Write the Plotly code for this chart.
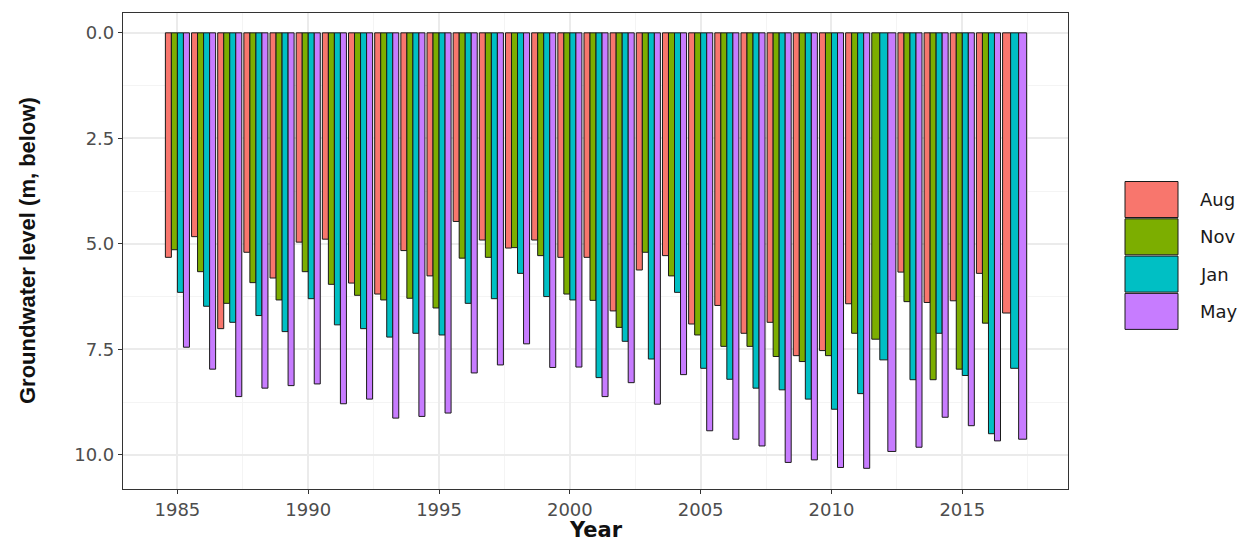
import plotly.graph_objects as go

years = list(range(1985, 2018))
months = ["Aug", "Nov", "Jan", "May"]

aug = [5.32, 4.83, 7.01, 5.20, 5.81, 4.96, 4.89, 5.93, 6.19, 5.16, 5.76, 4.47, 4.91,
       5.10, 4.91, 5.32, 5.32, 6.59, 5.62, 5.28, 6.90, 6.46, 7.12, 6.86, 7.65, 7.53,
       6.42, None, 5.67, 6.39, 6.35, 5.70, 6.64]
nov = [5.14, 5.66, 6.41, 5.92, 6.33, 5.66, 5.96, 6.22, 6.33, 6.29, 6.52, 5.34, 5.32,
       5.09, 5.28, 6.19, 6.34, 6.98, 5.20, 5.76, 7.16, 7.43, 7.43, 7.67, 7.79, 7.65,
       7.12, 7.26, 6.37, 8.22, 7.97, 6.88, None]
jan = [6.15, 6.48, 6.86, 6.70, 7.08, 6.30, 6.92, 7.01, 7.21, 7.12, 7.16, 6.41, 6.30,
       5.70, 6.25, 6.33, 8.17, 7.31, 7.73, 6.15, 7.95, 8.21, 8.42, 8.46, 8.68, 8.92,
       8.55, 7.75, 8.22, 7.12, 8.12, 9.50, 7.95]
may = [7.45, 7.97, 8.62, 8.42, 8.36, 8.32, 8.79, 8.68, 9.13, 9.09, 9.01, 8.06, 7.87,
       7.37, 7.93, 7.92, 8.62, 8.29, 8.80, 8.10, 9.43, 9.63, 9.79, 10.18, 10.12, 10.30,
       10.32, 9.92, 9.82, 9.11, 9.31, 9.67, 9.63]

y_tickvals = [0, 2.5, 5, 7.5, 10]
y_ticktext = ["0.0", "2.5", "5.0", "7.5", "10.0"]
x_tickvals = [1985, 1990, 1995, 2000, 2005, 2010, 2015]

colors = ["#F8766D", "#7CAE00", "#00BFC4", "#C77CFF"]
series = [aug, nov, jan, may]
W = 0.92  # dodge width (like ggplot position_dodge)

fig = go.Figure()
for mi, (name, vals, col) in enumerate(zip(months, series, colors)):
    xs, ys, ws, offs = [], [], [], []
    for yi, yr in enumerate(years):
        v = vals[yi]
        if v is None:
            continue
        present = [k for k in range(4) if series[k][yi] is not None]
        n = len(present)
        idx = present.index(mi)
        xs.append(yr)
        ys.append(v)
        ws.append(W / n)
        offs.append(-W / 2 + idx * W / n)
    fig.add_trace(go.Bar(
        x=xs, y=ys, width=ws, offset=offs, name=name, showlegend=False,
        marker=dict(color=col, line=dict(color="#1a1a1a", width=1)),
    ))

# page body has an 8px margin; work in page pixels and convert
OFF = 8
FW, FH = 1259 - OFF, 542 - OFF
PLOT_L, PLOT_R, PLOT_T, PLOT_B = 123, 1068, 13, 489  # page pixels
L = PLOT_L - OFF
T = PLOT_T - OFF
R = FW - (PLOT_R - OFF)
B = FH - (PLOT_B - OFF)
PW, PH = PLOT_R - PLOT_L, PLOT_B - PLOT_T


def px_x(p):
    return (p - PLOT_L) / PW


def px_y(p):
    return (PLOT_B - p) / PH


shapes = []
annotations = []
for i, (name, col) in enumerate(zip(months, colors)):
    top = 181.5 + i * 37.3
    shapes.append(dict(type="rect", xref="paper", yref="paper",
                       x0=px_x(1125), x1=px_x(1178), y0=px_y(top + 36), y1=px_y(top),
                       fillcolor=col, line=dict(color="#1a1a1a", width=1)))
    annotations.append(dict(xref="paper", yref="paper", x=px_x(1198), y=px_y(top + 18),
                            text=name, showarrow=False, xanchor="left", yanchor="middle",
                            font=dict(family="DejaVu Sans", size=18, color="#1a1a1a")))

annotations.append(dict(xref="paper", yref="paper", x=px_x(596), y=px_y(530),
                        text="<b>Year</b>", showarrow=False, xanchor="center", yanchor="middle",
                        font=dict(family="DejaVu Sans", size=21, color="#111111")))
annotations.append(dict(xref="paper", yref="paper", x=px_x(27), y=px_y(251),
                        text="<b>Groundwater level (m, below)</b>", showarrow=False, textangle=-90,
                        xanchor="center", yanchor="middle",
                        font=dict(family="Liberation Sans", size=22, color="#111111")))

fig.update_layout(
    width=FW, height=FH,
    margin=dict(l=L, r=R, t=T, b=B),
    barmode="overlay",
    plot_bgcolor="white", paper_bgcolor="white",
    shapes=shapes, annotations=annotations,
    showlegend=False,
    xaxis=dict(
        range=[1982.92, 2019.04], tickvals=x_tickvals,
        ticks="outside", ticklen=4, tickwidth=1.2, tickcolor="#333333",
        tickfont=dict(family="DejaVu Sans", size=18, color="#4D4D4D"),
        showline=True, mirror=True, linecolor="#333333", linewidth=1.2,
        showgrid=True, gridcolor="#EBEBEB", gridwidth=1.5, zeroline=False,
        minor=dict(dtick=2.5, tick0=1982.5, showgrid=True, gridcolor="#F4F4F4", gridwidth=0.8),
    ),
    yaxis=dict(
        range=[10.81, -0.47], tickvals=y_tickvals, ticktext=y_ticktext,
        ticks="outside", ticklen=4, tickwidth=1.2, tickcolor="#333333",
        tickfont=dict(family="DejaVu Sans", size=18, color="#4D4D4D"),
        showline=True, mirror=True, linecolor="#333333", linewidth=1.2,
        showgrid=True, gridcolor="#EBEBEB", gridwidth=1.5, zeroline=False,
        minor=dict(dtick=1.25, tick0=0, showgrid=True, gridcolor="#F4F4F4", gridwidth=0.8),
    ),
)

fig.write_html("out.html")
